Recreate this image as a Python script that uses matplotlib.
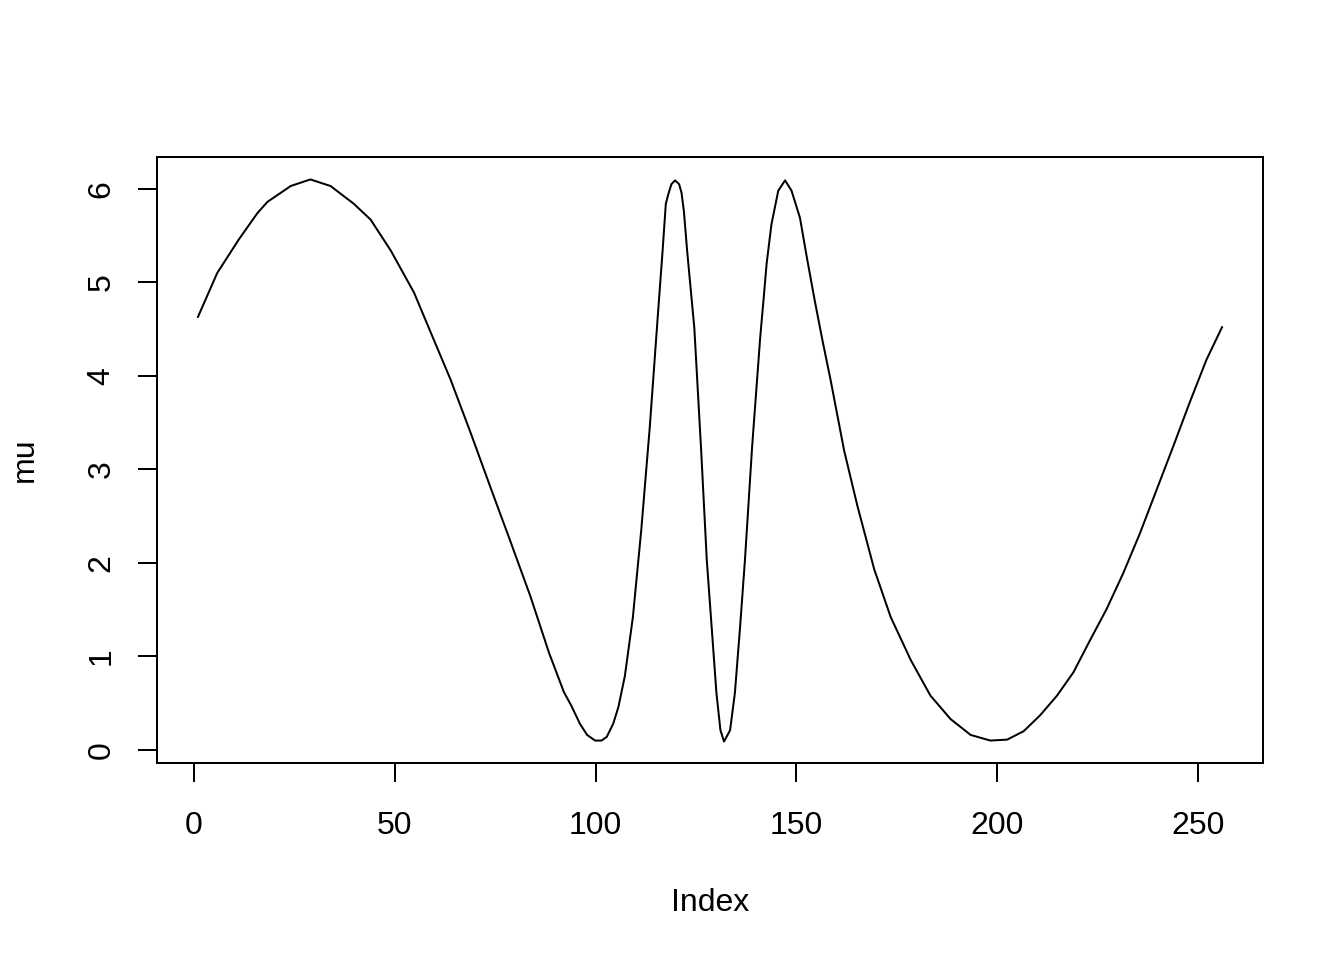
import matplotlib
matplotlib.use("Agg")
import matplotlib.pyplot as plt

# values
index = [1, 5.8, 11.2, 15.8, 18.3, 24.1, 29, 34, 39.8, 44, 49, 54.8, 58.9,
         63.9, 68.9, 73.9, 78.8, 83.8, 88.4, 92.1, 94.0, 96.1, 97.9, 99.9,
         101.5, 102.8, 104.4, 105.7, 107.3, 109.3, 111.4, 113.5, 115.5, 116.7,
         117.5, 118.1, 118.9, 119.8, 120.8, 121.4, 122.0, 122.8, 124.6, 126.3,
         127.7, 128.9, 130.1, 131.1, 132.0, 133.5, 134.7, 136.0, 137.2,
         139.0, 141.0, 141.8, 142.6, 143.8, 145.5, 147.2, 148.8, 150.9,
         152.6, 154.6, 156.5, 158.6, 161.9, 165.2, 169.4,
         173.5, 178.5, 183.4, 188.4, 193.4, 198.3, 202.5, 206.6, 210.7, 214.9,
         219, 223.1, 227.3, 231.4, 235.5, 239.7, 243.8, 247.9, 252.1, 256]
mu = [4.63, 5.10, 5.46, 5.74, 5.86, 6.03, 6.10, 6.03, 5.84, 5.67, 5.34, 4.89,
      4.47, 3.96, 3.39, 2.80, 2.23, 1.64, 1.04, 0.62, 0.47, 0.28, 0.16, 0.10,
      0.10, 0.14, 0.28, 0.46, 0.79, 1.42, 2.36, 3.45, 4.64, 5.34,
      5.84, 5.94, 6.05, 6.09, 6.05, 5.96, 5.76, 5.34, 4.51, 3.20,
      2.03, 1.32, 0.61, 0.21, 0.09, 0.21, 0.61, 1.32, 2.03,
      3.25, 4.41, 4.80, 5.20, 5.62, 5.98, 6.09, 5.98, 5.69,
      5.27, 4.80, 4.38, 3.94, 3.20, 2.61, 1.93,
      1.42, 0.96, 0.58, 0.33, 0.16, 0.10, 0.11, 0.20, 0.37, 0.58,
      0.83, 1.17, 1.51, 1.89, 2.31, 2.78, 3.24, 3.71, 4.17, 4.52]

x_ticks = [0, 50, 100, 150, 200, 250]
y_ticks = [0, 1, 2, 3, 4, 5, 6]

plt.rcParams["font.family"] = ["Liberation Sans", "DejaVu Sans"]
plt.rcParams["font.size"] = 12

fig = plt.figure(figsize=(7, 5), dpi=192)
ax = fig.add_axes([157 / 1344, 1 - 763 / 960, (1263 - 157) / 1344, (763 - 157) / 960])
ax.plot(index, mu, color="black", linewidth=0.75)

# R-style 4% padding
ax.set_xlim(1 - 0.04 * 255, 256 + 0.04 * 255)
ax.set_ylim(0.1 - 0.04 * 6, 6.1 + 0.04 * 6)
ax.set_xticks(x_ticks)
ax.set_yticks(y_ticks)
ax.set_yticklabels([str(v) for v in y_ticks], rotation=90, va="center")
ax.tick_params(direction="out", length=7.2, width=0.75)
ax.tick_params(axis="x", pad=10.9)
ax.tick_params(axis="y", pad=7.9)
for s in ax.spines.values():
    s.set_linewidth(0.75)

fig.text(710 / 1344, 1 - 903 / 960, "Index", ha="center", va="center", fontsize=12)
fig.text(25 / 1344, 1 - 460 / 960, "mu", ha="center", va="center", rotation=90, fontsize=12)

fig.savefig("out.png", dpi=192)
